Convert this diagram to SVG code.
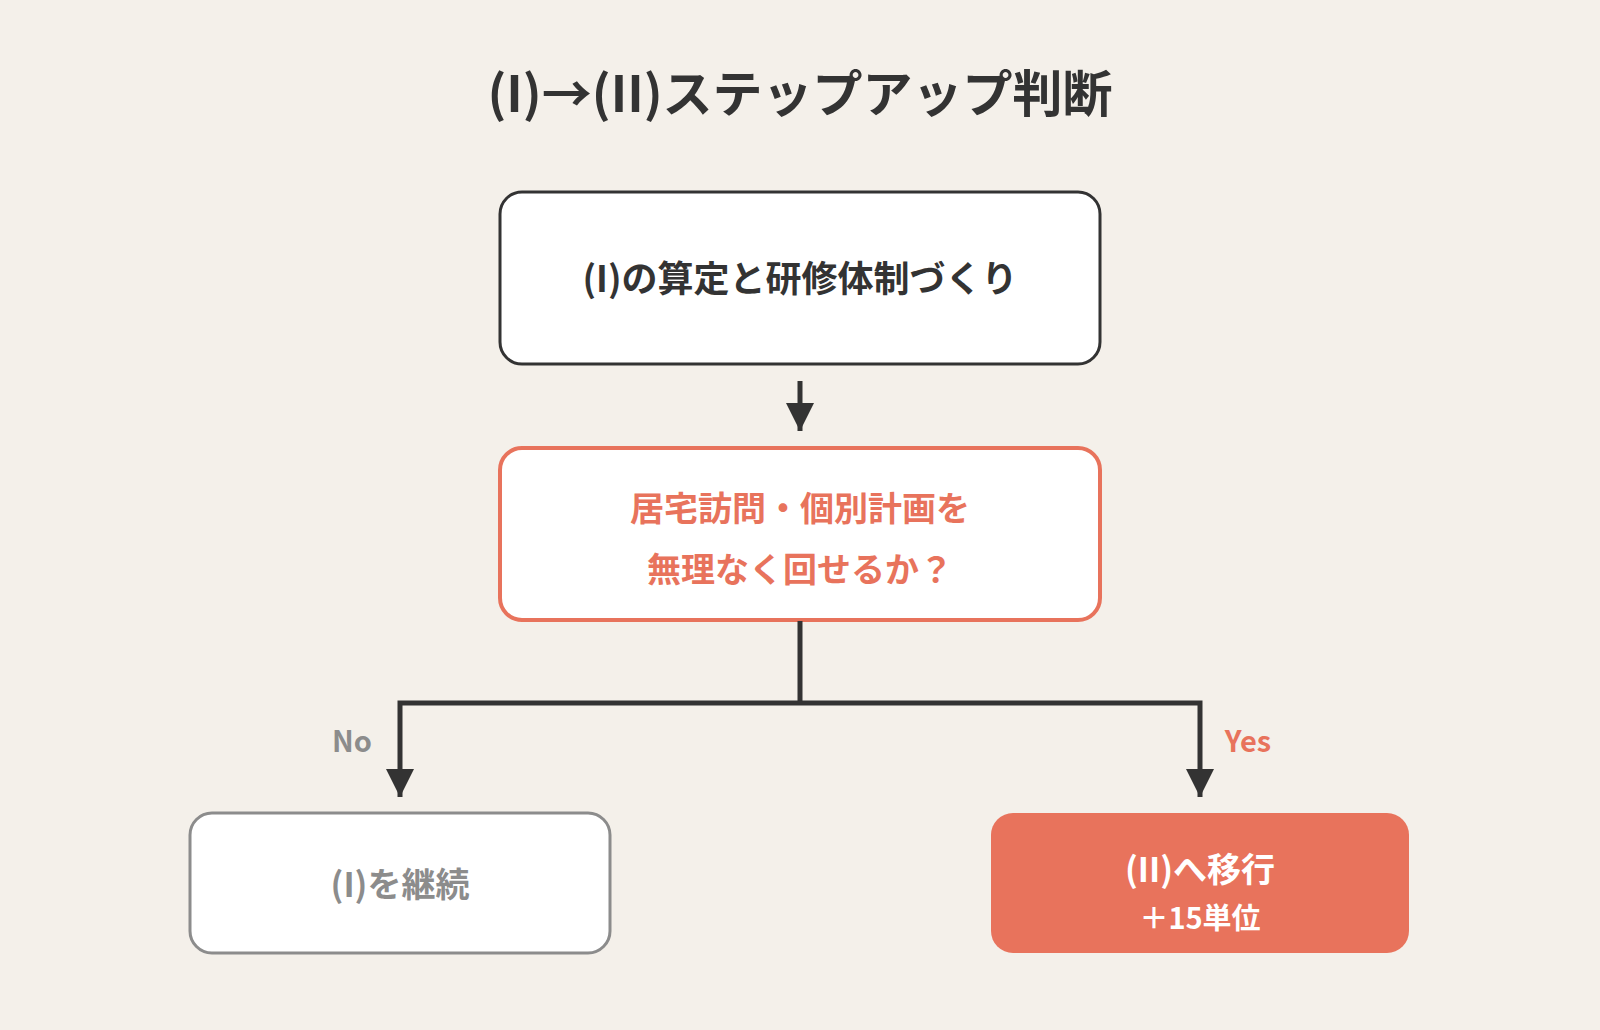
<svg xmlns="http://www.w3.org/2000/svg" width="1600" height="1030" viewBox="0 0 1600 1030">
<defs>
<style>
text{font-family:"Noto Sans CJK JP","Noto Sans",sans-serif;font-weight:bold;text-anchor:middle}
.title{font-size:50px;fill:#333333}
.dark{font-size:36px;fill:#333333}
.coral{font-size:34px;fill:#E8735C}
.gray{font-size:34px;fill:#8C8C8C}
.white{font-size:34px;fill:#FFFFFF}
.lbl{font-size:29px}
.conn{fill:none;stroke:#333333;stroke-width:5}
</style>
<marker id="ah" viewBox="0 0 10 10" refX="10" refY="5" markerWidth="5.6" markerHeight="5.6" markerUnits="strokeWidth" orient="auto">
<path d="M0,0 L10,5 L0,10 Z" fill="#333333"/>
</marker>
</defs>
<rect x="0" y="0" width="1600" height="1030" fill="#F4F0EA"/>
<text class="title" x="800" y="112">(I)→(II)ステップアップ判断</text>

<g id="node-start">
<rect x="500" y="192" width="600" height="172" rx="22" fill="#FFFFFF" stroke="#333333" stroke-width="3"/>
<text class="dark" x="800" y="292">(I)の算定と研修体制づくり</text>
</g>

<g id="node-decision">
<rect x="500" y="448" width="600" height="172" rx="22" fill="#FFFFFF" stroke="#E8735C" stroke-width="4"/>
<text class="coral" x="800" y="521">居宅訪問・個別計画を</text>
<text class="coral" x="800" y="582">無理なく回せるか？</text>
</g>

<g id="node-no">
<rect x="190" y="813" width="420" height="140" rx="22" fill="#FFFFFF" stroke="#8C8C8C" stroke-width="3"/>
<text class="gray" x="400" y="897">(I)を継続</text>
</g>

<g id="node-yes">
<rect x="991" y="813" width="418" height="140" rx="22" fill="#E8735C"/>
<text class="white" x="1200" y="882">(II)へ移行</text>
<text class="white lbl" x="1200" y="929">＋15単位</text>
</g>

<g id="connectors">
<path class="conn" d="M800,381 L800,431" marker-end="url(#ah)"/>
<path class="conn" d="M800,621 L800,703"/>
<path class="conn" d="M800,703 L400,703 L400,797" marker-end="url(#ah)"/>
<path class="conn" d="M800,703 L1200,703 L1200,797" marker-end="url(#ah)"/>
<text class="lbl" x="352" y="752" fill="#8C8C8C">No</text>
<text class="lbl" x="1248" y="752" fill="#E8735C">Yes</text>
</g>
</svg>
